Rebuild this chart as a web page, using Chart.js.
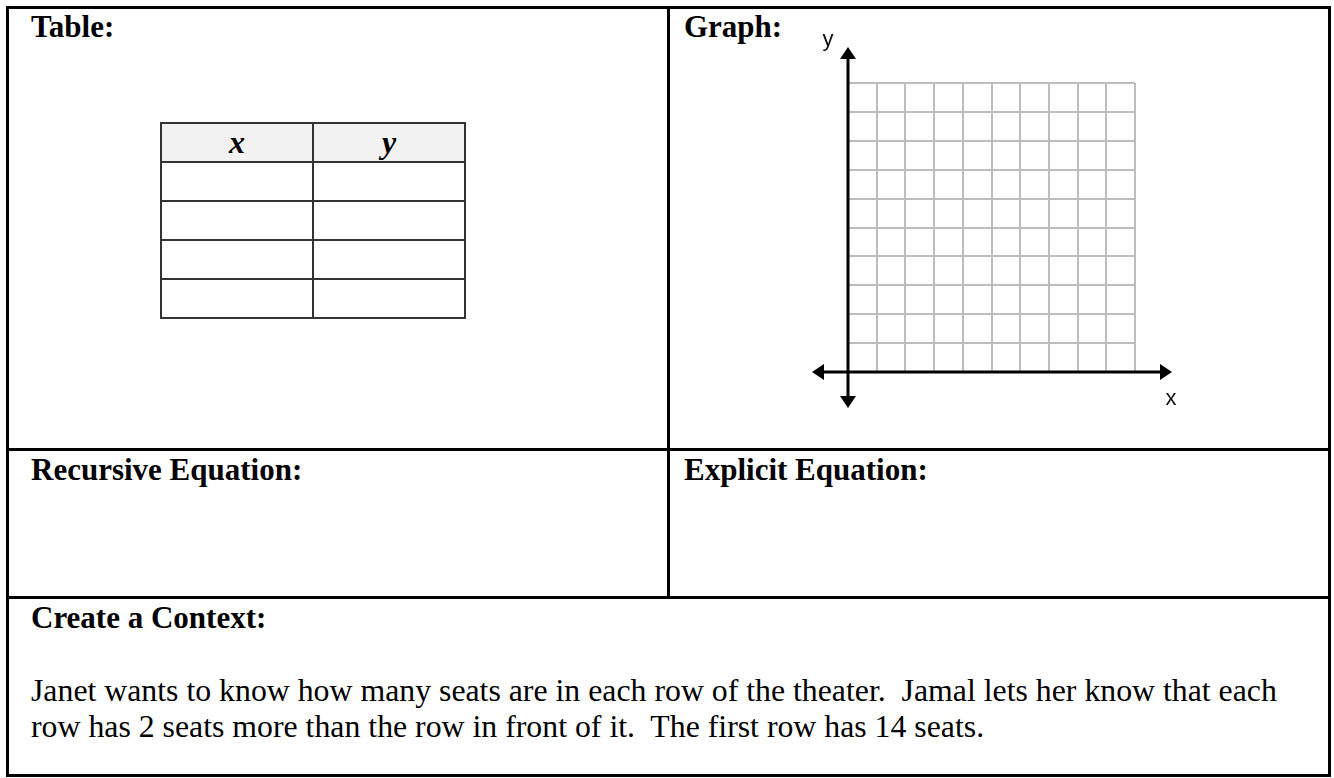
<!DOCTYPE html>
<html>
<head>
<meta charset="utf-8">
<script src="https://cdn.jsdelivr.net/npm/chart.js@4"></script>
<style>
  html, body { margin: 0; padding: 0; background: #fff; }
  body { width: 1334px; height: 778px; position: relative; overflow: hidden;
         font-family: "Liberation Serif", "Times New Roman", serif; color: #000; }
  .box { position: absolute; left: 6px; top: 6px; width: 1325px; height: 771px;
         border: 3px solid #000; box-sizing: border-box; }
  .hline { position: absolute; height: 3px; background: #000; }
  .vline { position: absolute; width: 3px; background: #000; }
  .head { position: absolute; font-weight: bold; font-size: 31px; line-height: 31px; white-space: nowrap; }
  .para { position: absolute; left: 31px; top: 673px; font-size: 31.8px; line-height: 36px; white-space: nowrap; }
  table.xy { position: absolute; left: 160px; top: 122px; border-collapse: collapse; }
  table.xy td, table.xy th { width: 150px; height: 37px; border: 2px solid #333; padding: 0; }
  table.xy th { background: #f2f2f2; font-style: italic; font-weight: bold; font-size: 32px;
                line-height: 37px; text-align: center; }
  #graph { position: absolute; left: 670px; top: 9px; }
</style>
</head>
<body>
<div class="box"></div>
<div class="vline" style="left:667px; top:7px; height:591px;"></div>
<div class="hline" style="left:7px; top:448px; width:1322px;"></div>
<div class="hline" style="left:7px; top:596px; width:1322px;"></div>

<div class="head" style="left:31px; top:11px;">Table:</div>
<div class="head" style="left:684px; top:11px;">Graph:</div>
<div class="head" style="left:31px; top:454px;">Recursive Equation:</div>
<div class="head" style="left:684px; top:454px;">Explicit Equation:</div>
<div class="head" style="left:31px; top:602px;">Create a Context:</div>

<table class="xy" id="xy"></table>

<div class="para">Janet wants to know how many seats are in each row of the theater.&nbsp; Jamal lets her know that each<br>row has 2 seats more than the row in front of it.&nbsp; The first row has 14 seats.</div>

<canvas id="graph" width="650" height="437"></canvas>

<script>
// blank worksheet: table headers, empty rows, grid ticks
const tableHeaders = ['x', 'y'];
const tableRows = [['', ''], ['', ''], ['', ''], ['', '']];
const xTicks = [0, 1, 2, 3, 4, 5, 6, 7, 8, 9, 10];
const yTicks = [0, 1, 2, 3, 4, 5, 6, 7, 8, 9, 10];
const points = [];   // nothing plotted yet

// table
const tbl = document.getElementById('xy');
let html = '<tr>' + tableHeaders.map(h => '<th>' + h + '</th>').join('') + '</tr>';
tableRows.forEach(r => { html += '<tr>' + r.map(c => '<td>' + c + '</td>').join('') + '</tr>'; });
tbl.innerHTML = html;

// axes with arrow heads + x / y labels
const axesPlugin = {
  id: 'axes',
  afterDraw(chart) {
    const { ctx, scales: { x, y } } = chart;
    const x0 = x.getPixelForValue(xTicks[0]);
    const y0 = y.getPixelForValue(yTicks[0]);
    const left = x0 - 36, right = x.getPixelForValue(xTicks[xTicks.length - 1]) + 37;
    const top = y.getPixelForValue(yTicks[yTicks.length - 1]) - 36, bottom = y0 + 36;
    const head = 12, half = 8;

    ctx.save();
    ctx.strokeStyle = '#000';
    ctx.fillStyle = '#000';
    ctx.lineWidth = 3;
    ctx.beginPath();
    ctx.moveTo(left + head, y0); ctx.lineTo(right - head, y0);
    ctx.moveTo(x0, top + head); ctx.lineTo(x0, bottom - head);
    ctx.stroke();

    const tri = (a, b, c) => {
      ctx.beginPath(); ctx.moveTo(a[0], a[1]); ctx.lineTo(b[0], b[1]); ctx.lineTo(c[0], c[1]);
      ctx.closePath(); ctx.fill();
    };
    tri([right, y0], [right - head, y0 - half], [right - head, y0 + half]);
    tri([left, y0], [left + head, y0 - half], [left + head, y0 + half]);
    tri([x0, top], [x0 - half, top + head], [x0 + half, top + head]);
    tri([x0, bottom], [x0 - half, bottom - head], [x0 + half, bottom - head]);

    ctx.font = '22px "Liberation Sans", Arial, sans-serif';
    ctx.fillStyle = '#111';
    ctx.textAlign = 'center';
    ctx.textBaseline = 'alphabetic';
    ctx.fillText('y', x0 - 20, top - 1);
    ctx.fillText('x', right - 1, y0 + 33);
    ctx.restore();
  }
};

const gridScale = ticks => ({
  type: 'linear',
  min: ticks[0],
  max: ticks[ticks.length - 1],
  afterBuildTicks: s => { s.ticks = ticks.map(v => ({ value: v })); },
  ticks: { display: false },
  border: { display: false },
  grid: { color: '#bdbdbd', lineWidth: 2, drawTicks: false }
});

new Chart(document.getElementById('graph'), {
  type: 'scatter',
  data: { datasets: [{ data: points, pointRadius: 4, backgroundColor: '#000' }] },
  options: {
    responsive: false,
    animation: false,
    layout: { padding: { left: 178, right: 185, top: 74, bottom: 74 } },
    plugins: { legend: { display: false }, tooltip: { enabled: false } },
    scales: { x: gridScale(xTicks), y: gridScale(yTicks) }
  },
  plugins: [axesPlugin]
});
</script>
</body>
</html>
